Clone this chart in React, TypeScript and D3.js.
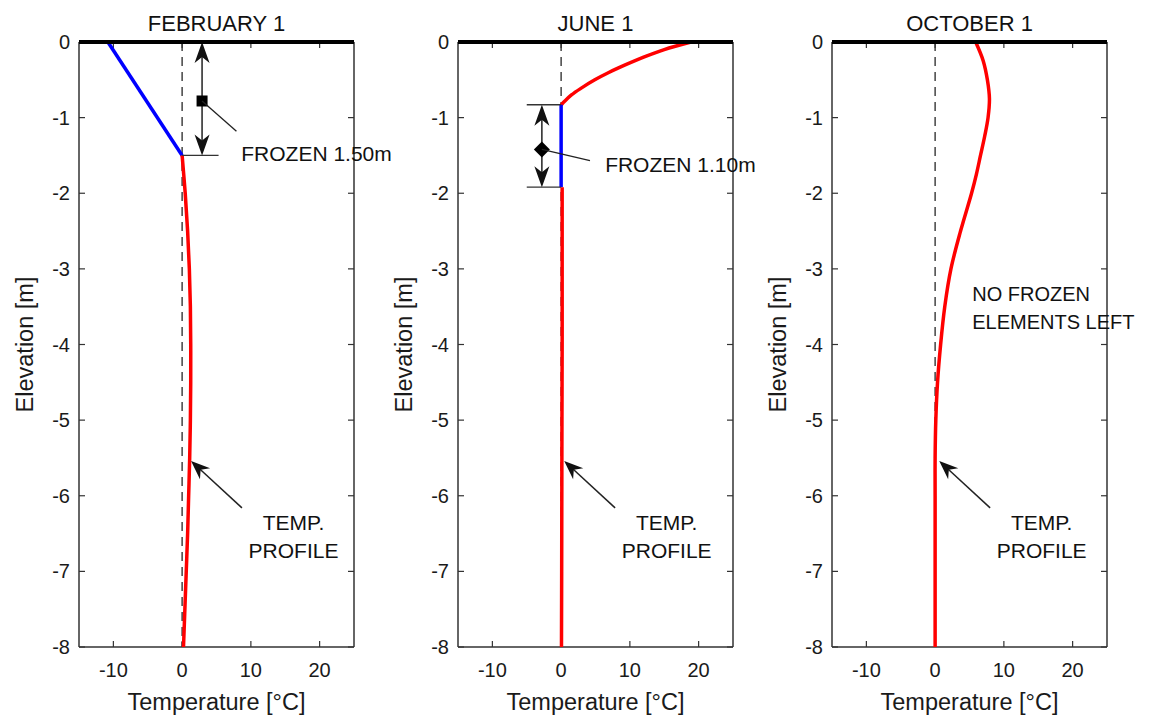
import React from 'react';
import * as d3 from 'd3';

// ---------- data ----------
const TITLES = ['FEBRUARY 1', 'JUNE 1', 'OCTOBER 1'];
const TEMP_TICKS = [-10, 0, 10, 20];
const DEPTH_TICKS = [0, -1, -2, -3, -4, -5, -6, -7, -8];
const TEMP_DOMAIN = [-15, 25];
const DEPTH_DOMAIN = [-8, 0];

// February
const febFrozenDepth = [0, -1.5];
const febFrozenTemp = [-10.8, 0];
const febProfileDepth = [-1.5, -2, -2.5, -3, -3.5, -4, -4.5, -5, -5.5, -6, -6.5, -7, -7.5, -8];
const febProfileTemp = [0, 0.45, 0.8, 1.05, 1.2, 1.25, 1.25, 1.2, 1.1, 0.95, 0.8, 0.6, 0.4, 0.2];

// June
const junSurfaceDepth = [0, -0.1, -0.2, -0.3, -0.4, -0.5, -0.6, -0.7, -0.83];
const junSurfaceTemp = [18.9, 15.0, 12.0, 9.4, 7.0, 4.9, 3.1, 1.5, 0];
const junFrozenDepth = [-0.83, -1.92];
const junFrozenTemp = [0, 0];
const junProfileDepth = [-1.92, -3, -4, -5, -6, -7, -8];
const junProfileTemp = [0.15, 0.15, 0.15, 0.12, 0.1, 0.08, 0.05];

// October
const octProfileDepth = [0, -0.25, -0.5, -0.75, -1, -1.25, -1.5, -1.75, -2, -2.5, -3, -3.5, -4, -4.5, -5, -5.5, -6, -7, -8];
const octProfileTemp = [5.9, 7.0, 7.6, 7.9, 7.7, 7.2, 6.6, 6.0, 5.3, 3.7, 2.3, 1.4, 0.8, 0.35, 0.1, 0.0, 0, 0, 0];

// annotations
const frozenLabels = ['FROZEN 1.50m', 'FROZEN 1.10m'];
const profileLabel = ['TEMP.', 'PROFILE'];
const noFrozenLabel = ['NO FROZEN', 'ELEMENTS LEFT'];

// ---------- layout ----------
const W = 1149, H = 716;
const PANEL_LEFT = [79, 458, 832];
const PANEL_W = 275;
const TOP = 42, BOTTOM = 647;
const FONT = "'Liberation Sans', Arial, Helvetica, sans-serif";
const AXIS_COLOR = '#333';

function head(tx: number, ty: number, ux: number, uy: number, len = 20, wid = 15, notch = 6) {
  const bx = tx - ux * len, by = ty - uy * len;
  const px = -uy, py = ux;
  const nx = tx - ux * (len - notch), ny = ty - uy * (len - notch);
  return `M${tx},${ty}L${bx + px * wid / 2},${by + py * wid / 2}L${nx},${ny}L${bx - px * wid / 2},${by - py * wid / 2}Z`;
}

function Panel({ idx, children }: { idx: number; children: (x: any, y: any) => React.ReactNode }) {
  const left = PANEL_LEFT[idx];
  const x = d3.scaleLinear().domain(TEMP_DOMAIN).range([left, left + PANEL_W]);
  const y = d3.scaleLinear().domain(DEPTH_DOMAIN).range([BOTTOM, TOP]);
  const right = left + PANEL_W;
  const tl = 6;
  return (
    <g>
      <line x1={x(0)} x2={x(0)} y1={y(0)} y2={y(-8)} stroke="#444" strokeWidth={1.5} strokeDasharray="9,6" />
      <line x1={left} x2={left} y1={TOP} y2={BOTTOM} stroke={AXIS_COLOR} strokeWidth={1.5} />
      <line x1={right} x2={right} y1={TOP} y2={BOTTOM} stroke={AXIS_COLOR} strokeWidth={1.5} />
      <line x1={left} x2={right} y1={BOTTOM} y2={BOTTOM} stroke={AXIS_COLOR} strokeWidth={1.5} />
      {DEPTH_TICKS.map((d) => (
        <g key={'yt' + d}>
          <line x1={left} x2={left + tl} y1={y(d)} y2={y(d)} stroke={AXIS_COLOR} strokeWidth={1.2} />
          <line x1={right} x2={right - tl} y1={y(d)} y2={y(d)} stroke={AXIS_COLOR} strokeWidth={1.2} />
          <text x={left - 9} y={y(d)} dy="0.35em" textAnchor="end" fontSize={20} fontFamily={FONT} fill="#1a1a1a">{d}</text>
        </g>
      ))}
      {TEMP_TICKS.map((t) => (
        <g key={'xt' + t}>
          <line x1={x(t)} x2={x(t)} y1={BOTTOM} y2={BOTTOM - tl} stroke={AXIS_COLOR} strokeWidth={1.2} />
          <line x1={x(t)} x2={x(t)} y1={TOP} y2={TOP + tl} stroke={AXIS_COLOR} strokeWidth={1.2} />
          <text x={x(t)} y={BOTTOM + 30} textAnchor="middle" fontSize={20} fontFamily={FONT} fill="#1a1a1a">{t}</text>
        </g>
      ))}
      <text x={(left + right) / 2} y={31} textAnchor="middle" fontSize={22} fontFamily={FONT} fill="#111">{TITLES[idx]}</text>
      <text x={(left + right) / 2} y={710} textAnchor="middle" fontSize={23.5} fontFamily={FONT} fill="#1a1a1a">Temperature [°C]</text>
      <text transform={`translate(${left - 46},${(TOP + BOTTOM) / 2}) rotate(-90)`} textAnchor="middle" fontSize={23.5} fontFamily={FONT} fill="#1a1a1a">Elevation [m]</text>
      {children(x, y)}
      <line x1={left} x2={right} y1={y(0)} y2={y(0)} stroke="#000" strokeWidth={4} />
    </g>
  );
}

function series(x: any, y: any, temps: number[], depths: number[], color: string, curve: any = d3.curveCatmullRom) {
  const pts = temps.map((t, i) => [t, depths[i]] as [number, number]);
  const line = d3.line<[number, number]>().x((p) => x(p[0])).y((p) => y(p[1])).curve(curve);
  return <path d={line(pts) || ''} fill="none" stroke={color} strokeWidth={3.5} strokeLinejoin="round" />;
}

function ProfileArrow({ x, y, tipT }: { x: any; y: any; tipT: number }) {
  const tx = x(tipT), ty = y(-5.54);
  const sx = x(tipT + 7.4), sy = y(-6.16);
  const L = Math.hypot(tx - sx, ty - sy);
  const ux = (tx - sx) / L, uy = (ty - sy) / L;
  const cx = x(tipT + 14.9);
  return (
    <g>
      <line x1={sx} y1={sy} x2={tx - ux * 10} y2={ty - uy * 10} stroke="#222" strokeWidth={1.5} />
      <path d={head(tx, ty, ux, uy, 19, 15, 6)} fill="#111" />
      <text x={cx} y={530} textAnchor="middle" fontSize={21} fontFamily={FONT} fill="#111">{profileLabel[0]}</text>
      <text x={cx} y={558} textAnchor="middle" fontSize={21} fontFamily={FONT} fill="#111">{profileLabel[1]}</text>
    </g>
  );
}

function DoubleArrow({ x, y, t, d0, d1 }: { x: any; y: any; t: number; d0: number; d1: number }) {
  const ax = x(t);
  const y0 = y(d0), y1 = y(d1);
  return (
    <g>
      <line x1={ax} x2={ax} y1={y0 + 10} y2={y1 - 10} stroke="#222" strokeWidth={1.5} />
      <path d={head(ax, y0, 0, -1, 21, 15, 6)} fill="#111" />
      <path d={head(ax, y1, 0, 1, 21, 15, 6)} fill="#111" />
    </g>
  );
}

export default function App() {
  return (
    <svg width={W} height={H} style={{ position: 'absolute', left: 0, top: 0, background: '#fff' }}>
      <rect width={W} height={H} fill="#fff" />
      <Panel idx={0}>
        {(x, y) => (
          <g>
            {series(x, y, febFrozenTemp, febFrozenDepth, '#0000ff', d3.curveLinear)}
            {series(x, y, febProfileTemp, febProfileDepth, '#ff0000')}
            <line x1={x(0)} x2={x(5.3)} y1={y(-1.5)} y2={y(-1.5)} stroke="#333" strokeWidth={1.3} />
            <DoubleArrow x={x} y={y} t={2.9} d0={0} d1={-1.5} />
            <rect x={x(2.9) - 5.5} y={y(-0.78) - 5.5} width={11} height={11} fill="#000" />
            <line x1={x(2.9)} y1={y(-0.78)} x2={x(7.9)} y2={y(-1.18)} stroke="#222" strokeWidth={1.3} />
            <text x={x(8.6)} y={161} fontSize={21} fontFamily={FONT} fill="#111">{frozenLabels[0]}</text>
            <ProfileArrow x={x} y={y} tipT={1.3} />
          </g>
        )}
      </Panel>
      <Panel idx={1}>
        {(x, y) => (
          <g>
            {series(x, y, junSurfaceTemp, junSurfaceDepth, '#ff0000')}
            {series(x, y, junFrozenTemp, junFrozenDepth, '#0000ff', d3.curveLinear)}
            {series(x, y, junProfileTemp, junProfileDepth, '#ff0000')}
            <line x1={x(-5)} x2={x(0)} y1={y(-0.83)} y2={y(-0.83)} stroke="#333" strokeWidth={1.3} />
            <line x1={x(-5)} x2={x(0)} y1={y(-1.92)} y2={y(-1.92)} stroke="#333" strokeWidth={1.3} />
            <DoubleArrow x={x} y={y} t={-2.8} d0={-0.83} d1={-1.92} />
            <path d={`M${x(-2.8)},${y(-1.42) - 8}l8,8l-8,8l-8,-8Z`} fill="#000" />
            <line x1={x(-2.8)} y1={y(-1.42)} x2={x(4.2)} y2={y(-1.57)} stroke="#222" strokeWidth={1.3} />
            <text x={x(6.4)} y={172} fontSize={21} fontFamily={FONT} fill="#111">{frozenLabels[1]}</text>
            <ProfileArrow x={x} y={y} tipT={0.45} />
          </g>
        )}
      </Panel>
      <Panel idx={2}>
        {(x, y) => (
          <g>
            {series(x, y, octProfileTemp, octProfileDepth, '#ff0000')}
            <text x={x(5.4)} y={301} fontSize={20} fontFamily={FONT} fill="#111">{noFrozenLabel[0]}</text>
            <text x={x(5.4)} y={329} fontSize={20} fontFamily={FONT} fill="#111">{noFrozenLabel[1]}</text>
            <ProfileArrow x={x} y={y} tipT={0.6} />
          </g>
        )}
      </Panel>
    </svg>
  );
}
